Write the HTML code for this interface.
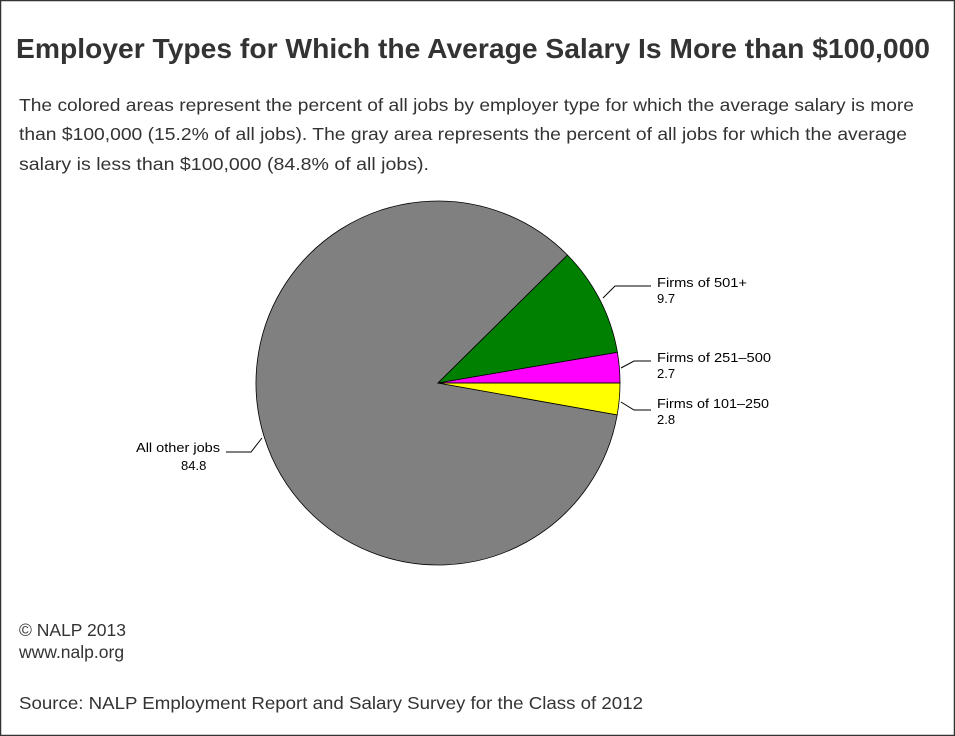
<!DOCTYPE html>
<html><head><meta charset="utf-8"><style>
html,body{margin:0;padding:0;background:#fff}
svg{display:block}
</style></head><body>
<svg width="955" height="736" xmlns="http://www.w3.org/2000/svg">
<rect x="0.5" y="0.5" width="954" height="735" fill="#fff" stroke="#333" stroke-width="1.5"/>
<text x="16" y="58" font-family="Liberation Sans, sans-serif" font-weight="bold" font-size="28" fill="#333" textLength="914" lengthAdjust="spacingAndGlyphs">Employer Types for Which the Average Salary Is More than $100,000</text>
<g font-family="Liberation Sans, sans-serif" font-size="17.5" fill="#333">
<text x="19" y="111" textLength="895" lengthAdjust="spacingAndGlyphs">The colored areas represent the percent of all jobs by employer type for which the average salary is more</text>
<text x="19" y="140" textLength="888" lengthAdjust="spacingAndGlyphs">than $100,000 (15.2% of all jobs). The gray area represents the percent of all jobs for which the average</text>
<text x="19" y="170" textLength="410" lengthAdjust="spacingAndGlyphs">salary is less than $100,000 (84.8% of all jobs).</text>
<text x="19" y="636">© NALP 2013</text>
<text x="19" y="658">www.nalp.org</text>
<text x="19" y="709" textLength="624" lengthAdjust="spacingAndGlyphs">Source: NALP Employment Report and Salary Survey for the Class of 2012</text>
</g>
<g stroke="#000" stroke-width="0.8">
<path d="M438,383 L567.5,255.1 A182,182 0 1 0 617.2,414.9 Z" fill="#808080"/>
<path d="M438,383 L617.4,352.3 A182,182 0 0 0 567.5,255.1 Z" fill="#008000"/>
<path d="M438,383 L620,383 A182,182 0 0 0 617.4,352.3 Z" fill="#ff00ff"/>
<path d="M438,383 L617.2,414.9 A182,182 0 0 0 620,383 Z" fill="#ffff00"/>
<line x1="438" y1="383" x2="620" y2="383"/>
</g>
<g stroke="#000" stroke-width="1" fill="none">
<polyline points="603,298 615,286 651,286"/>
<polyline points="621,368 634,361 651,361"/>
<polyline points="621,402 634,410 651,410"/>
<polyline points="262,438 251,452 226,452"/>
</g>
<g font-family="Liberation Sans, sans-serif" font-size="13" fill="#000">
<text x="657" y="287" textLength="90" lengthAdjust="spacingAndGlyphs">Firms of 501+</text>
<text x="657" y="303">9.7</text>
<text x="657" y="362" textLength="114" lengthAdjust="spacingAndGlyphs">Firms of 251–500</text>
<text x="657" y="378">2.7</text>
<text x="657" y="408" textLength="112" lengthAdjust="spacingAndGlyphs">Firms of 101–250</text>
<text x="657" y="424">2.8</text>
<text x="136" y="452" textLength="84" lengthAdjust="spacingAndGlyphs">All other jobs</text>
<text x="181" y="470">84.8</text>
</g>
</svg>
</body></html>
